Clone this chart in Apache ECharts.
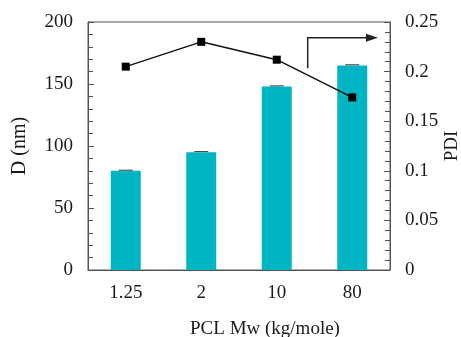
<!DOCTYPE html>
<html>
<head>
<meta charset="utf-8">
<script src="https://cdn.jsdelivr.net/npm/echarts@6/dist/echarts.min.js"></script>
<style>
  html, body { margin: 0; padding: 0; background: #fff; }
  #chart { width: 461px; height: 337px; }
</style>
</head>
<body>
<div id="chart"></div>
<script>
// data
var categories = ["1.25", "2", "10", "80"];
var sizeD = [80, 95, 148, 165];          // D (nm), bars
var sizeErr = [0.5, 0.5, 0.5, 0.5];      // error bars are barely visible
var pdi = [0.205, 0.23, 0.212, 0.174];   // PDI, line

var font = "Liberation Serif";
var axisColor = "#555";
var textColor = "#1a1a1a";

var myChart = echarts.init(document.getElementById("chart"));

myChart.setOption({
  animation: false,
  textStyle: { fontFamily: font },
  grid: {
    left: 88, right: 71, top: 22, bottom: 67,
    containLabel: false,
    outerBoundsMode: "none",
    show: true, borderColor: axisColor, borderWidth: 1
  },
  xAxis: {
    type: "category",
    data: categories,
    name: "PCL Mw (kg/mole)",
    nameLocation: "middle",
    nameGap: 50,
    nameTextStyle: { fontFamily: font, fontSize: 19, color: textColor, padding: [0, 0, 0, 52] },
    axisLine: { lineStyle: { color: axisColor } },
    axisTick: { inside: true, length: 5, lineStyle: { color: axisColor } },
    axisLabel: { fontFamily: font, fontSize: 19, color: textColor, margin: 14 }
  },
  yAxis: [
    {
      type: "value",
      min: 0, max: 200, interval: 50,
      name: "D (nm)",
      nameLocation: "middle",
      nameGap: 58,
      nameMoveOverlap: false,
      nameTextStyle: { fontFamily: font, fontSize: 20, color: textColor },
      axisLine: { show: true, lineStyle: { color: axisColor } },
      axisTick: { show: true, inside: true, length: 6, lineStyle: { color: axisColor } },
      minorTick: { show: true, splitNumber: 5, length: 5, lineStyle: { color: axisColor } },
      splitLine: { show: false },
      axisLabel: { fontFamily: font, fontSize: 19, color: textColor, margin: 15 }
    },
    {
      type: "value",
      min: 0, max: 0.25, interval: 0.05,
      name: "PDI",
      nameLocation: "middle",
      nameGap: 53,
      nameRotate: 90,
      nameMoveOverlap: false,
      nameTextStyle: { fontFamily: font, fontSize: 19, color: textColor },
      axisLine: { show: true, lineStyle: { color: axisColor } },
      axisTick: { show: true, inside: true, length: 6, lineStyle: { color: axisColor } },
      minorTick: { show: true, splitNumber: 5, length: 5, lineStyle: { color: axisColor } },
      splitLine: { show: false },
      axisLabel: { fontFamily: font, fontSize: 19, color: textColor, margin: 15 }
    }
  ],
  series: [
    {
      name: "D",
      type: "bar",
      data: sizeD,
      barWidth: 30,
      itemStyle: { color: "#00b5c3" }
    },
    {
      name: "err",
      type: "custom",
      data: sizeD.map(function (v, i) { return [i, v, sizeErr[i]]; }),
      z: 3,
      renderItem: function (params, api) {
        var hi = api.coord([api.value(0), api.value(1) + api.value(2)]);
        return {
          type: "line",
          shape: { x1: hi[0] - 7, y1: hi[1], x2: hi[0] + 7, y2: hi[1] },
          style: { stroke: "#3a3a3a", lineWidth: 1 }
        };
      }
    },
    {
      name: "PDI",
      type: "line",
      yAxisIndex: 1,
      data: pdi,
      symbol: "rect",
      symbolSize: 8,
      lineStyle: { color: "#111", width: 1.5 },
      itemStyle: { color: "#000" },
      z: 4
    }
  ]
});

// arrow pointing to the right axis (annotation), placed in data space
function drawArrow() {
  var c2 = myChart.convertToPixel({ xAxisIndex: 0 }, "10");
  var c3 = myChart.convertToPixel({ xAxisIndex: 0 }, "80");
  var step = c3 - c2;
  var x0 = c2 + step * 0.41;
  var x1 = c3 + step * 0.34;
  var yLow = myChart.convertToPixel({ yAxisIndex: 1 }, 0.2035);
  var yHigh = myChart.convertToPixel({ yAxisIndex: 1 }, 0.234);
  myChart.setOption({
    graphic: [
      {
        type: "polyline",
        shape: { points: [[x0, yLow], [x0, yHigh], [x1 - 10, yHigh]] },
        style: { stroke: "#222", lineWidth: 1.5, fill: null },
        z: 10
      },
      {
        type: "polygon",
        shape: { points: [[x1 - 12, yHigh - 4], [x1, yHigh], [x1 - 12, yHigh + 4]] },
        style: { fill: "#222" },
        z: 10
      }
    ]
  });
}
drawArrow();

window.addEventListener("resize", function () {
  myChart.resize();
  drawArrow();
});
</script>
</body>
</html>
